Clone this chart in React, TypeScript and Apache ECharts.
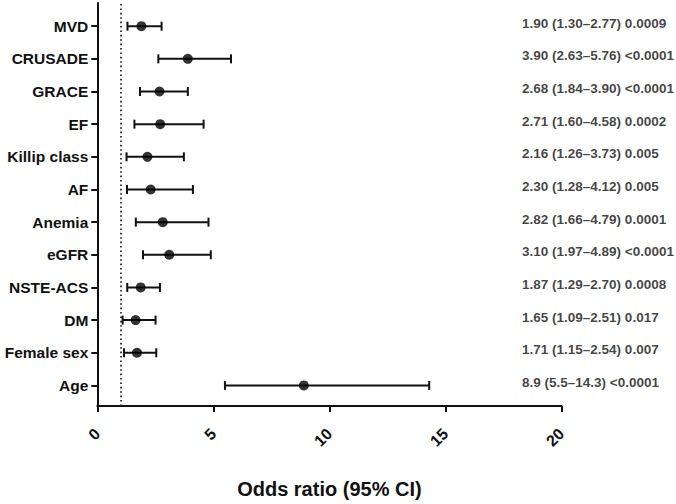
import React, { useEffect, useRef } from "react";
import * as echarts from "echarts";

const categories = [
  "MVD",
  "CRUSADE",
  "GRACE",
  "EF",
  "Killip class",
  "AF",
  "Anemia",
  "eGFR",
  "NSTE-ACS",
  "DM",
  "Female sex",
  "Age",
];
const oddsRatio = [1.9, 3.9, 2.68, 2.71, 2.16, 2.3, 2.82, 3.1, 1.87, 1.65, 1.71, 8.9];
const ciLower = [1.3, 2.63, 1.84, 1.6, 1.26, 1.28, 1.66, 1.97, 1.29, 1.09, 1.15, 5.5];
const ciUpper = [2.77, 5.76, 3.9, 4.58, 3.73, 4.12, 4.79, 4.89, 2.7, 2.51, 2.54, 14.3];
const decimals = [2, 2, 2, 2, 2, 2, 2, 2, 2, 2, 2, 1];
const pValues = [
  "0.0009",
  "<0.0001",
  "<0.0001",
  "0.0002",
  "0.005",
  "0.005",
  "0.0001",
  "<0.0001",
  "0.0008",
  "0.017",
  "0.007",
  "<0.0001",
];
const xTicks = [0, 5, 10, 15, 20];
const referenceLine = 1;

const FONT = "'Liberation Sans', Arial, sans-serif";
const INK = "#111";
const ANNOT_X = 18.3;

export default function App() {
  const ref = useRef<HTMLDivElement>(null);

  useEffect(() => {
    if (!ref.current) return;
    const chart = echarts.init(ref.current, undefined, { renderer: "svg" });
    const n = categories.length;
    const yOf = (i: number) => n - i;

    const barData = categories.map((_, i) => [ciLower[i], ciUpper[i], yOf(i)]);
    const pointData = categories.map((_, i) => [oddsRatio[i], yOf(i)]);
    const annotData = categories.map((_, i) => ({
      value: [ANNOT_X, yOf(i)],
      text: `${oddsRatio[i].toFixed(decimals[i])} (${ciLower[i].toFixed(decimals[i])}\u2013${ciUpper[i].toFixed(decimals[i])}) ${pValues[i]}`,
    }));

    chart.setOption({
      animation: false,
      grid: { left: 97.3, right: 114.5, top: 3, bottom: 89.7, containLabel: false },
      xAxis: {
        type: "value",
        min: xTicks[0],
        max: xTicks[xTicks.length - 1],
        interval: 5,
        name: "Odds ratio (95% CI)",
        nameLocation: "middle",
        nameGap: 73,
        nameTextStyle: { fontFamily: FONT, fontWeight: "bold", fontSize: 20, color: INK },
        axisLine: { show: true, lineStyle: { color: INK, width: 2 } },
        axisTick: { show: true, length: 6, lineStyle: { color: INK, width: 2 } },
        axisLabel: {
          rotate: 45,
          margin: 25,
          fontFamily: FONT,
          fontWeight: "bold",
          fontSize: 16,
          color: INK,
        },
        splitLine: { show: false },
      },
      yAxis: {
        type: "value",
        min: 0.37,
        max: 12.71,
        axisLine: { show: true, lineStyle: { color: INK, width: 2 } },
        axisTick: {
          show: true,
          length: 6,
          customValues: categories.map((_, i) => yOf(i)),
          lineStyle: { color: INK, width: 2 },
        },
        axisLabel: {
          customValues: categories.map((_, i) => yOf(i)),
          formatter: (v: number) => categories[n - Math.round(v)] ?? "",
          margin: 9,
          fontFamily: FONT,
          fontWeight: "bold",
          fontSize: 15.5,
          color: INK,
        },
        splitLine: { show: false },
      },
      series: [
        {
          type: "custom",
          data: barData,
          encode: { x: [0, 1], y: 2 },
          renderItem: (params: any, api: any) => {
            const y = api.value(2);
            const lo = api.coord([api.value(0), y]);
            const hi = api.coord([api.value(1), y]);
            const h = 4.5;
            const style = { stroke: INK, lineWidth: 2, fill: "none" };
            return {
              type: "group",
              children: [
                { type: "line", shape: { x1: lo[0], y1: lo[1], x2: hi[0], y2: hi[1] }, style },
                { type: "line", shape: { x1: lo[0], y1: lo[1] - h, x2: lo[0], y2: lo[1] + h }, style },
                { type: "line", shape: { x1: hi[0], y1: hi[1] - h, x2: hi[0], y2: hi[1] + h }, style },
              ],
            };
          },
          z: 2,
        },
        {
          type: "scatter",
          data: pointData,
          symbol: "circle",
          symbolSize: 10,
          itemStyle: { color: "#000" },
          z: 3,
          markLine: {
            silent: true,
            symbol: ["none", "none"],
            label: { show: false },
            lineStyle: { color: INK, width: 1.6, type: [1.6, 2.8] },
            data: [{ xAxis: referenceLine }],
          },
        },
        {
          type: "scatter",
          data: annotData,
          symbolSize: 0,
          silent: true,
          label: {
            show: true,
            position: "right",
            distance: 0,
            offset: [0, -3],
            formatter: (p: any) => p.data.text,
            fontFamily: FONT,
            fontWeight: "bold",
            fontSize: 13.5,
            color: INK,
          },
          z: 4,
        },
      ],
    });
    return () => chart.dispose();
  }, []);

  return (
    <div
      ref={ref}
      style={{ position: "fixed", left: 0, top: 0, width: 676, height: 504, background: "#fff" }}
    />
  );
}
